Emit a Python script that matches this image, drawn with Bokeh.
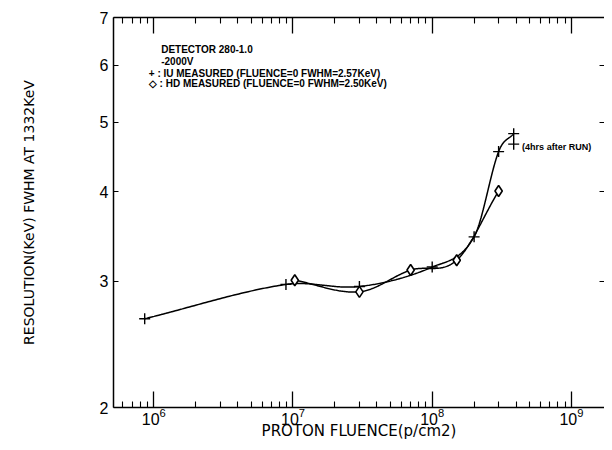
import numpy as np
from bokeh.plotting import figure
from bokeh.models import Range1d, LogAxis, FixedTicker, Label
from bokeh.embed import file_html
from bokeh.resources import INLINE

# ---- data ----
iu_x = [8.6e5, 8.9e6, 3.0e7, 1.0e8, 2.0e8, 3.0e8, 3.85e8]
iu_y = [2.66, 2.97, 2.95, 3.14, 3.46, 4.55, 4.82]
iu_after_x = [3.85e8]
iu_after_y = [4.66]
hd_x = [1.03e7, 3.0e7, 7.0e7, 1.5e8, 3.0e8]
hd_y = [3.01, 2.90, 3.11, 3.21, 4.01]

y_ticks = [2, 3, 4, 5, 6, 7]
x_major_ticks = [1e6, 1e7, 1e8, 1e9]
x_minor_ticks = [m * 10.0 ** e for e in [5, 6, 7, 8, 9] for m in [2, 3, 4, 5, 6, 7, 8, 9]]

title_lines = ["DETECTOR 280-1.0", "-2000V"]
legend_lines = ["+ : IU MEASURED  (FLUENCE=0 FWHM=2.57KeV)",
                "\u25c7 : HD MEASURED  (FLUENCE=0 FWHM=2.50KeV)"]
after_note = "(4hrs after RUN)"
x_title = "PROTON FLUENCE(p/cm2)"
y_title = "RESOLUTION(KeV) FWHM AT 1332KeV"


def smooth_curve(xs, ys, n=60):
    """Cubic Hermite curve (finite-difference tangents) in log-log space."""
    x = np.log10(np.asarray(xs, float))
    y = np.log10(np.asarray(ys, float))
    k = len(x)
    m = np.empty(k)
    m[0] = (y[1] - y[0]) / (x[1] - x[0])
    m[-1] = (y[-1] - y[-2]) / (x[-1] - x[-2])
    for i in range(1, k - 1):
        m[i] = (y[i + 1] - y[i - 1]) / (x[i + 1] - x[i - 1])
    outx, outy = [], []
    for i in range(k - 1):
        h = x[i + 1] - x[i]
        t = np.linspace(0, 1, n, endpoint=(i == k - 2))
        h00 = 2 * t ** 3 - 3 * t ** 2 + 1
        h10 = t ** 3 - 2 * t ** 2 + t
        h01 = -2 * t ** 3 + 3 * t ** 2
        h11 = t ** 3 - t ** 2
        outx.extend(x[i] + t * h)
        outy.extend(h00 * y[i] + h10 * h * m[i] + h01 * y[i + 1] + h11 * h * m[i + 1])
    return 10 ** np.array(outx), 10 ** np.array(outy)


p = figure(width=604, height=442, x_axis_type="log", y_axis_type="log",
           x_range=Range1d(10 ** 5.7105, 10 ** 9.2378), y_range=Range1d(2, 7),
           output_backend="svg", toolbar_location=None,
           min_border_left=113, min_border_right=0, min_border_top=17, min_border_bottom=34)
p.outline_line_color = None
p.grid.visible = False
p.background_fill_color = "white"

# curves
cx, cy = smooth_curve(iu_x, iu_y)
p.line(cx, cy, line_color="black", line_width=1.5)
dx, dy = smooth_curve(hd_x, hd_y)
p.line(dx, dy, line_color="black", line_width=1.5)

# markers
p.scatter(iu_x, iu_y, marker="cross", size=11, line_color="black", line_width=1.4)
p.scatter(iu_after_x, iu_after_y, marker="cross", size=11, line_color="black", line_width=1.4)
p.scatter(hd_x, hd_y, marker="diamond", size=11, line_color="black", fill_color="white", line_width=1.6)

# bottom axis
xa = p.xaxis[0]
xa.ticker = FixedTicker(ticks=x_major_ticks, minor_ticks=x_minor_ticks)
xa.major_tick_in = 16
xa.major_tick_out = 0
xa.minor_tick_in = 6
xa.minor_tick_out = 0
xa.axis_line_width = 1.5
xa.axis_line_color = "black"
xa.major_tick_line_color = "black"
xa.minor_tick_line_color = "black"
xa.major_tick_line_width = 1.3
xa.minor_tick_line_width = 1.1
xa.major_label_text_font = "Liberation Sans"
xa.major_label_text_font_size = "16px"
xa.major_label_text_color = "black"
xa.major_label_standoff = 0
xa.axis_label = x_title
xa.axis_label_text_font = "DejaVu Sans"
xa.axis_label_text_font_size = "15px"
xa.axis_label_text_font_style = "normal"
xa.axis_label_text_color = "black"
xa.axis_label_standoff = -6

# left axis
ya = p.yaxis[0]
ya.ticker = FixedTicker(ticks=y_ticks, minor_ticks=[])
ya.major_label_overrides = {t: str(t) for t in y_ticks}
ya.major_tick_in = 5
ya.major_tick_out = 0
ya.axis_line_width = 1.5
ya.axis_line_color = "black"
ya.major_tick_line_color = "black"
ya.major_label_text_font = "Liberation Sans"
ya.major_label_text_font_size = "16px"
ya.major_label_text_color = "black"
ya.major_label_standoff = 5
ya.axis_label = y_title
ya.axis_label_text_font = "DejaVu Sans"
ya.axis_label_text_font_size = "14px"
ya.axis_label_text_font_style = "normal"
ya.axis_label_text_color = "black"
ya.axis_label_standoff = 60

# top axis (ticks only)
top = LogAxis(ticker=FixedTicker(ticks=x_major_ticks, minor_ticks=x_minor_ticks),
              major_tick_in=16, major_tick_out=0, minor_tick_in=6, minor_tick_out=0,
              axis_line_width=1.5, axis_line_color="black",
              major_tick_line_width=1.3, minor_tick_line_width=1.1,
              major_label_text_font_size="1px", major_label_text_alpha=0,
              major_label_standoff=0)
p.add_layout(top, "above")

# right axis (ticks only)
right = LogAxis(ticker=FixedTicker(ticks=y_ticks, minor_ticks=[]), major_tick_in=5,
                major_tick_out=0, axis_line_color=None,
                major_label_text_font_size="1px", major_label_text_alpha=0,
                major_label_standoff=0)
p.add_layout(right, "right")

# annotations
tfont = "Liberation Sans"
common = dict(text_font=tfont, text_font_style="bold", text_baseline="alphabetic",
              text_color="black")
p.add_layout(Label(x=10 ** 6.053, y=6.31, text=title_lines[0], text_font_size="10px", **common))
p.add_layout(Label(x=10 ** 6.053, y=6.08, text=title_lines[1], text_font_size="10px", **common))
p.add_layout(Label(x=10 ** 5.964, y=5.84, text=legend_lines[0], text_font_size="10px", **common))
p.add_layout(Label(x=10 ** 5.964, y=5.66, text=legend_lines[1], text_font_size="10px", **common))
p.add_layout(Label(x=10 ** 8.646, y=4.62, text=after_note, text_font_size="9px", **common))

open("out.html", "w").write(file_html(p, INLINE))
